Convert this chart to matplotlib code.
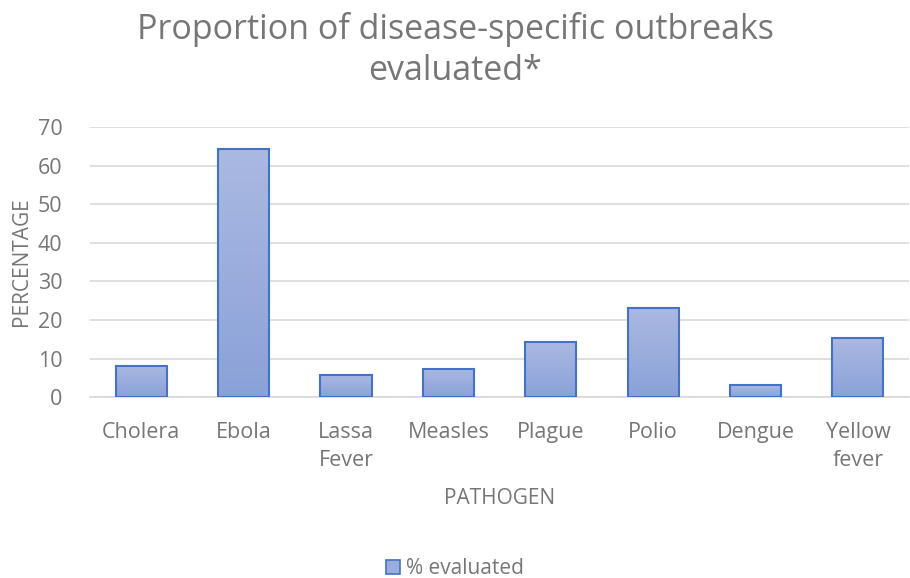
import numpy as np
import matplotlib.pyplot as plt
from matplotlib.colors import LinearSegmentedColormap
from matplotlib.patches import Patch

pathogens = ["Cholera", "Ebola", "Lassa\nFever", "Measles", "Plague", "Polio", "Dengue", "Yellow\nfever"]
evaluated = [8.1, 64.3, 5.8, 7.3, 14.3, 23.0, 3.1, 15.3]
yticks = [0, 10, 20, 30, 40, 50, 60, 70]

gray = "#767676"
plt.rcParams['font.family'] = ['Open Sans', 'DejaVu Sans']

fig = plt.figure(figsize=(9.1, 5.78), dpi=100)
ax = fig.add_axes([0.099, 0.313, 0.9, 0.467])

x = np.arange(len(pathogens))
bars = ax.bar(x, evaluated, width=0.5, color="none", edgecolor="#4472c4", linewidth=1.5, zorder=3)

# vertical gradient inside each bar
cmap = LinearSegmentedColormap.from_list("grad", ["#8aa1d8", "#aab9e2"])
grad = np.linspace(0, 1, 256).reshape(-1, 1)
for b in bars:
    x0, y0 = b.get_x(), b.get_y()
    w, h = b.get_width(), b.get_height()
    im = ax.imshow(grad, cmap=cmap, aspect="auto", origin="lower",
                   extent=[x0, x0 + w, y0, y0 + h], zorder=2)
    im.set_clip_path(b)

ax.set_xlim(-0.5, len(pathogens) - 0.5)
ax.set_ylim(0, 70)
ax.set_yticks(yticks)
ax.set_xticks(x)
ax.set_xticklabels(pathogens, fontsize=15.5, color=gray, linespacing=1.45)
ax.tick_params(axis="y", labelsize=15.5, colors=gray, length=0, pad=20)
ax.tick_params(axis="x", length=0, pad=18, colors=gray)
ax.grid(axis="y", color="#d9d9d9", linewidth=1.2, zorder=0)
for s in ["top", "right", "left"]:
    ax.spines[s].set_visible(False)
ax.spines["bottom"].set_color("#d9d9d9")
ax.spines["bottom"].set_linewidth(1.2)

ax.set_ylabel("PERCENTAGE", fontsize=15, color=gray, labelpad=4)
ax.set_xlabel("PATHOGEN", fontsize=15, color=gray, labelpad=12)

fig.text(0.5, 0.9325, "Proportion of disease-specific outbreaks", ha="center", va="baseline",
         fontsize=24.5, color=gray)
fig.text(0.5, 0.8616, "evaluated*", ha="center", va="baseline", fontsize=24.5, color=gray)

handle = Patch(facecolor="#9aadde", edgecolor="#4472c4", linewidth=1.2)
fig.legend([handle], ["% evaluated"], loc="center", bbox_to_anchor=(0.5, 0.016), frameon=False,
           fontsize=15, labelcolor=gray, handlelength=0.7, handleheight=0.7, handletextpad=0.3)

fig.savefig("out.png", dpi=100)
